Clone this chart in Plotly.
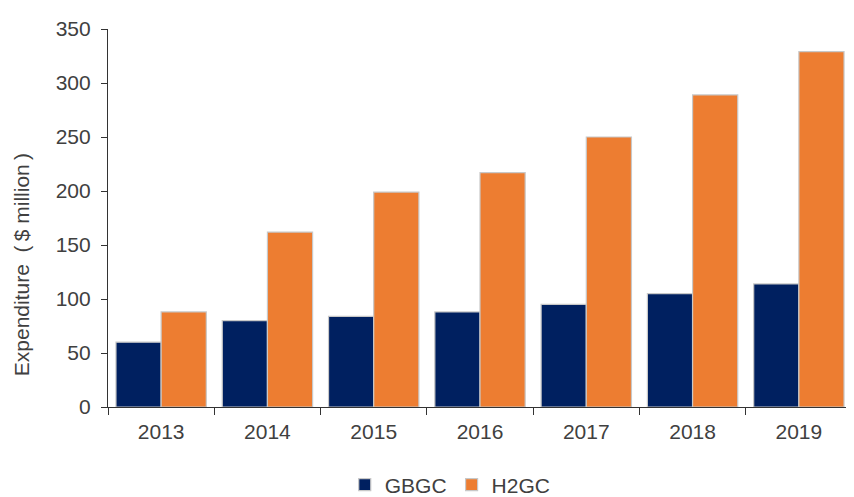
import plotly.graph_objects as go

years = ["2013", "2014", "2015", "2016", "2017", "2018", "2019"]
gbgc = [60, 80, 84, 88, 95, 105, 114]
h2gc = [88, 162, 199, 217, 250, 289, 329]

font = "Liberation Sans, Arial, sans-serif"

fig = go.Figure()
fig.add_trace(go.Bar(x=years, y=gbgc, name="GBGC",
                     marker=dict(color="#002060", line=dict(color="#c8c8c8", width=1.2))))
fig.add_trace(go.Bar(x=years, y=h2gc, name="H2GC",
                     marker=dict(color="#ED7D31", line=dict(color="#c8c8c8", width=1.2))))

# the page body adds an 8px offset, margins compensate for it
fig.update_layout(
    width=854, height=497,
    margin=dict(l=100, r=10, t=21, b=98, autoexpand=False),
    paper_bgcolor="white", plot_bgcolor="white",
    barmode="group", bargap=0.15, bargroupgap=0,
    font=dict(family=font, size=21, color="#404040"),
    showlegend=True,
    legend=dict(orientation="h", xanchor="center", x=0.46, yanchor="top", y=-0.152,
                font=dict(size=21), itemwidth=30, traceorder="normal"),
)
fig.add_annotation(text="Expenditure\u00a0\u00a0(\u2009$ million\u2009)", textangle=-90,
                   xref="paper", yref="paper", x=-0.116, y=0.377,
                   xanchor="center", yanchor="middle", showarrow=False,
                   font=dict(size=21, color="#404040"))
fig.update_xaxes(type="category", showline=True, linecolor="#333333", linewidth=1.2,
                 ticks="outside", tickson="boundaries", ticklen=7, tickcolor="#333333",
                 ticklabelstandoff=6, showgrid=False, automargin=False)
fig.update_yaxes(range=[0, 350], dtick=50, showline=True, linecolor="#333333", linewidth=1.2,
                 ticks="outside", ticklen=6, tickcolor="#333333", showgrid=False, zeroline=False,
                 ticklabelstandoff=6, automargin=False)

fig.write_html("out.html")
